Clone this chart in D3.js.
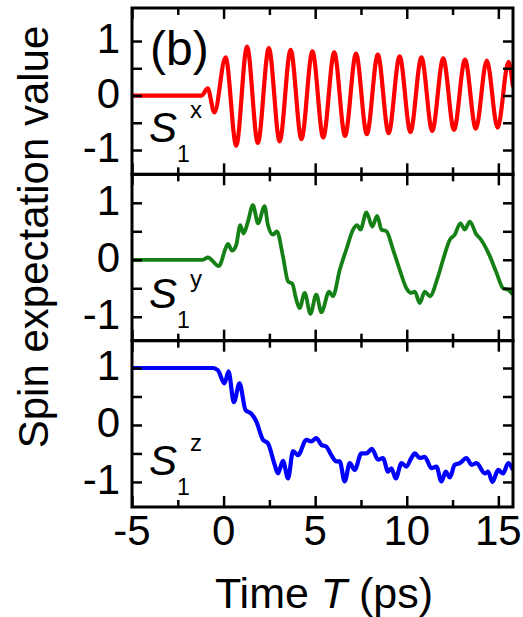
<!DOCTYPE html>
<html><head><meta charset="utf-8">
<script src="https://cdn.jsdelivr.net/npm/d3@7"></script>
<style>body{margin:0;background:#fff}svg{display:block}</style>
</head><body>
<script>
// ---- data ----
const xDomain = [-5, 15.8];
const xMajorTicks = [-5, 0, 5, 10, 15];
const xMinorTicks = [-2.5, 2.5, 7.5, 12.5];
const yLabelTicks = [-1, 0, 1];
const yAllTicks = [-1, -0.5, 0, 0.5, 1];

const sxT = [-5, -1.2, -0.87, -0.5, 0.11, 0.69, 1.28, 1.87, 2.47, 3.06, 3.66, 4.25, 4.85, 5.44, 6.04, 6.63, 7.23, 7.82, 8.42, 9.01, 9.61, 10.20, 10.80, 11.39, 11.99, 12.58, 13.18, 13.77, 14.37, 14.96, 15.56, 15.8];
const sxV = [0, 0, 0.13, -0.31, 0.70, -0.92, 0.90, -0.87, 0.87, -0.84, 0.84, -0.80, 0.81, -0.77, 0.79, -0.74, 0.77, -0.71, 0.75, -0.69, 0.72, -0.67, 0.70, -0.65, 0.68, -0.63, 0.66, -0.61, 0.64, -0.59, 0.62, 0.15];

const syT = [-5, -1.13, -0.86, -0.26, 0.11, 0.24, 0.46, 0.69, 0.91, 1.09, 1.33, 1.6, 1.88, 2.24, 2.42, 2.7, 2.91, 3.24, 3.52, 3.75, 3.97, 4.15, 4.43, 4.74, 5.06, 5.34, 5.76, 5.97, 6.34, 6.7, 7.07, 7.29, 7.47, 7.8, 8.12, 8.38, 8.62, 8.89, 9.25, 9.62, 9.98, 10.25, 10.44, 10.71, 10.98, 11.26, 11.71, 11.98, 12.35, 12.62, 12.93, 13.17, 13.44, 13.81, 13.99, 14.54, 14.9, 15.26, 15.54, 15.8];
const syV = [0, 0, 0.04, -0.11, 0.2, 0.28, 0.16, 0.26, 0.61, 0.46, 0.67, 0.96, 0.64, 0.94, 0.61, 0.44, 0.5, 0.06, -0.38, -0.42, -0.70, -0.85, -0.58, -0.95, -0.61, -0.92, -0.56, -0.64, -0.18, 0.18, 0.53, 0.61, 0.53, 0.83, 0.58, 0.77, 0.53, 0.5, 0.18, -0.18, -0.50, -0.58, -0.56, -0.76, -0.56, -0.64, -0.29, 0, 0.35, 0.44, 0.64, 0.53, 0.67, 0.44, 0.38, 0.06, -0.23, -0.50, -0.53, -0.61];

const szT = [-5, -0.58, -0.31, 0.05, 0.27, 0.56, 0.87, 1.2, 1.51, 1.79, 2.15, 2.42, 2.79, 2.97, 3.24, 3.52, 3.79, 4.06, 4.52, 4.79, 5.06, 5.34, 5.61, 5.88, 6.16, 6.34, 6.61, 6.89, 7.16, 7.52, 7.8, 8.1, 8.43, 8.7, 8.98, 9.16, 9.4, 9.71, 9.98, 10.25, 10.44, 10.71, 10.98, 11.35, 11.62, 11.89, 12.13, 12.35, 12.62, 12.9, 13.26, 13.54, 13.81, 14.26, 14.44, 14.68, 14.99, 15.26, 15.54, 15.8];
const szV = [1, 1, 0.96, 0.73, 0.94, 0.40, 0.73, 0.26, 0.2, 0.06, -0.26, -0.32, -0.70, -0.85, -0.63, -0.94, -0.46, -0.53, -0.26, -0.29, -0.23, -0.35, -0.38, -0.53, -0.64, -0.64, -0.99, -0.67, -0.79, -0.50, -0.50, -0.42, -0.61, -0.58, -0.82, -0.76, -0.94, -0.67, -0.73, -0.58, -0.50, -0.58, -0.56, -0.76, -0.73, -0.99, -0.82, -0.92, -0.70, -0.67, -0.58, -0.70, -0.67, -0.85, -0.82, -1.0, -0.79, -0.85, -0.67, -0.79];

const panelNames = ["x", "y", "z"];
const panelColors = ["#ff0000", "#158015", "#0000ff"];
const panelDomains = [[-1.446, 1.606], [-1.42, 1.50], [-1.44, 1.48]];

// ---- layout ----
const W = 523, H = 617;
const L = 132, R = 513, TOP = 8, BOT = 507;
const ph = (BOT - TOP) / 3;
const FONT = "'Liberation Sans', Arial, Helvetica, sans-serif";

const svg = d3.select("body").append("svg").attr("width", W).attr("height", H)
  .style("font-family", FONT);

const x = d3.scaleLinear().domain(xDomain).range([L, R]);

const series = [
  sxT.map((t, i) => [t, sxV[i]]),
  syT.map((t, i) => [t, syV[i]]),
  szT.map((t, i) => [t, szV[i]])
];

series.forEach((data, p) => {
  const top = TOP + p * ph, bot = top + ph;
  const y = d3.scaleLinear().domain(panelDomains[p]).range([bot, top]);
  const g = svg.append("g");

  const cid = "clip" + p;
  svg.append("clipPath").attr("id", cid).append("rect")
    .attr("x", L).attr("y", top).attr("width", R - L).attr("height", ph);

  g.append("path").datum(data)
    .attr("clip-path", `url(#${cid})`)
    .attr("fill", "none").attr("stroke", panelColors[p])
    .attr("stroke-width", p === 1 ? 3.8 : 4.2).attr("stroke-linejoin", "round")
    .attr("d", d3.line().x(d => x(d[0])).y(d => y(d[1])).curve(d3.curveMonotoneX));

  const styleAxis = sel => { sel.select(".domain").remove(); sel.selectAll("line").attr("stroke", "#000").attr("stroke-width", 2.5); sel.selectAll("text").remove(); };
  g.append("g").attr("transform", `translate(0,${bot})`).call(d3.axisBottom(x).tickValues(xMajorTicks).tickSize(-11)).call(styleAxis);
  g.append("g").attr("transform", `translate(0,${bot})`).call(d3.axisBottom(x).tickValues(xMinorTicks).tickSize(-7)).call(styleAxis);
  g.append("g").attr("transform", `translate(0,${top})`).call(d3.axisTop(x).tickValues(xMajorTicks).tickSize(-11)).call(styleAxis);
  g.append("g").attr("transform", `translate(0,${top})`).call(d3.axisTop(x).tickValues(xMinorTicks).tickSize(-7)).call(styleAxis);
  g.append("g").attr("transform", `translate(${L},0)`).call(d3.axisLeft(y).tickValues(yAllTicks).tickSize(-10)).call(styleAxis);
  g.append("g").attr("transform", `translate(${R},0)`).call(d3.axisRight(y).tickValues(yAllTicks).tickSize(-10)).call(styleAxis);

  g.selectAll(".yl").data(yLabelTicks).join("text")
    .attr("x", 120).attr("y", d => y(d) + 12)
    .attr("text-anchor", "end").attr("font-size", 42).attr("fill", "#000")
    .text(d => d === -1 ? "-1" : d3.format("d")(d));

  g.append("rect").attr("x", L).attr("y", top).attr("width", R - L).attr("height", ph)
    .attr("fill", "none").attr("stroke", "#000").attr("stroke-width", 3);

  const sb = top + 134;
  g.append("text").attr("x", 149).attr("y", sb).attr("font-size", 42).attr("font-style", "italic").text("S");
  g.append("text").attr("x", 177).attr("y", sb + 20).attr("font-size", 23).text("1");
  g.append("text").attr("x", 190).attr("y", sb - (p === 1 ? 21 : 24)).attr("font-size", 24).text(panelNames[p]);
});

svg.append("text").attr("x", 150).attr("y", 65).attr("font-size", 48).text("(b)");

svg.selectAll(".xl").data(xMajorTicks).join("text")
  .attr("x", d => x(d)).attr("y", 545).attr("text-anchor", "middle")
  .attr("font-size", 42).text(d => d === -5 ? "-5" : d);

const xt = svg.append("text").attr("x", 324).attr("y", 608).attr("text-anchor", "middle").attr("font-size", 43);
xt.append("tspan").text("Time ");
xt.append("tspan").attr("font-style", "italic").text("T");
xt.append("tspan").text(" (ps)");

svg.append("text").attr("transform", "translate(48,237) rotate(-90)")
  .attr("text-anchor", "middle").attr("font-size", 42).text("Spin expectation value");
</script>
</body></html>
